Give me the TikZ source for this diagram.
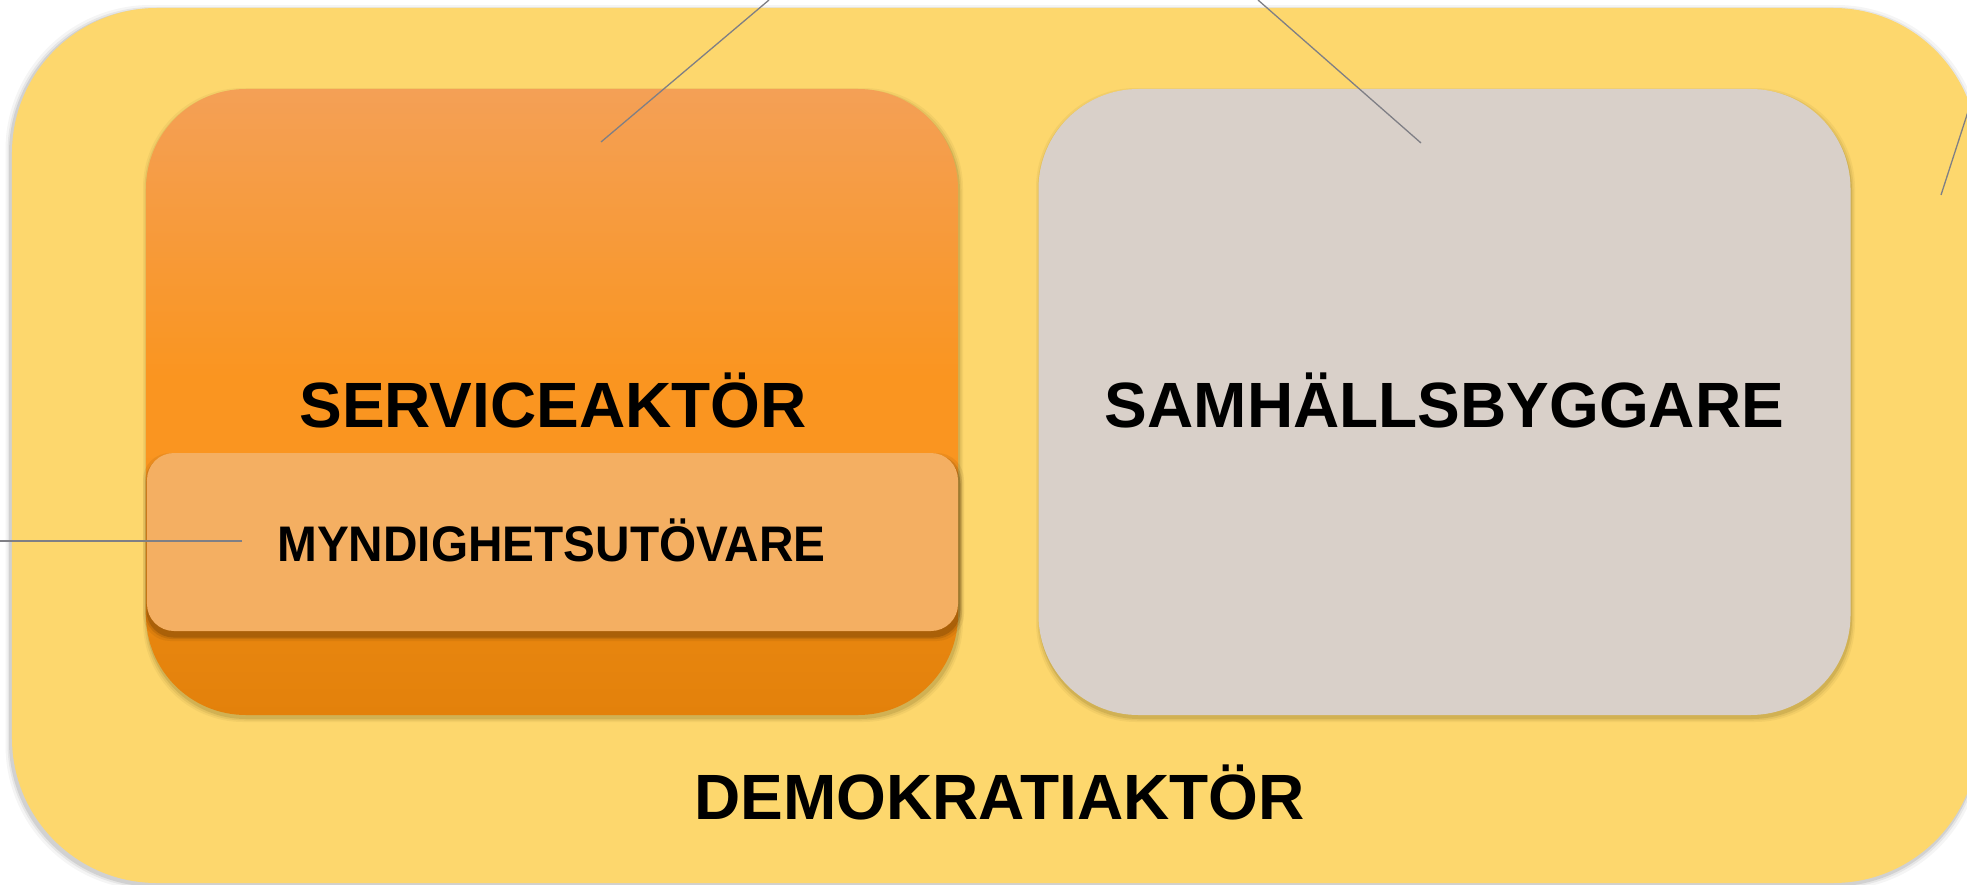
\documentclass[tikz,border=0pt]{standalone}
\usepackage{fontspec}
\setmainfont{Liberation Sans}
\usepackage{graphicx}
\definecolor{yel}{HTML}{FDD76D}
\definecolor{otop}{HTML}{F4A056}
\definecolor{omid}{HTML}{FA9520}
\definecolor{obot2}{HTML}{E8860F}
\definecolor{obot}{HTML}{E3810B}
\definecolor{greybox}{HTML}{D9D0C9}
\definecolor{lightor}{HTML}{F4AF62}
\definecolor{leader}{HTML}{7F7F85}
\definecolor{shol}{HTML}{5A4A10}
\definecolor{shbr}{HTML}{4A2800}
\pgfdeclareverticalshading{orangesh}{100bp}{color(0bp)=(obot); color(25bp)=(obot); color(32bp)=(obot2); color(46bp)=(omid); color(52bp)=(omid); color(75bp)=(otop); color(100bp)=(otop)}
\begin{document}
\begin{tikzpicture}[x=1bp,y=-1bp,
  outerbox/.style={rectangle, inner sep=0pt, fill=yel, rounded corners=145bp, minimum width=1966bp, minimum height=875bp},
  bigbox/.style={rectangle, inner sep=0pt, rounded corners=100bp, minimum width=812bp, minimum height=626bp},
  innerbox/.style={rectangle, inner sep=0pt, fill=lightor, rounded corners=27bp, minimum width=811bp, minimum height=178bp},
  bigtext/.style={inner sep=0pt, anchor=base, font=\bfseries\fontsize{64bp}{70bp}\selectfont},
  smalltext/.style={inner sep=0pt, anchor=base, font=\bfseries\fontsize{50bp}{56bp}\selectfont},
  leaderline/.style={draw=leader, line width=1.3bp}]
\useasboundingbox (0,0) rectangle (1967,885);
\fill[white] (0,0) rectangle (1967,885);
\clip (0,0) rectangle (1967,885);
% outer shadow
\foreach \g/\op in {5/0.04,3/0.06,1.5/0.09}
  \fill[black, opacity=\op, rounded corners=145bp] (12-\g-1.5, 8-\g+2) rectangle (1978+\g-1.5, 883+\g+2);
\node[outerbox] (demo) at (995,445.5) {};
% big box shadows
\foreach \g/\op in {4/0.06,2.5/0.09,1/0.14}{
  \fill[shol, opacity=\op, rounded corners=100bp] (146-\g+1, 89-\g+3) rectangle (958+\g+1, 715+\g+3);
  \fill[shol, opacity=\op, rounded corners=100bp] (1039-\g+1, 89-\g+3) rectangle (1850+\g+1, 715+\g+3);
}
\node[bigbox, shading=orangesh] (serv) at (552,402) {};
\node[bigbox, fill=greybox] (samh) at (1444.5,402) {};
% inner box shadow
\foreach \g/\op in {5/0.08,3/0.14,1.5/0.22}
  \fill[shbr, opacity=\op, rounded corners=27bp] (147-\g+1, 453-\g+5) rectangle (958+\g+1, 631+\g+5);
\node[innerbox] (mynd) at (552.5,542) {};
% texts
\node[bigtext] (servt) at (553,427) {SERVICEAKTÖR};
\node[bigtext] (samht) at (1444.5,427) {SAMHÄLLSBYGGARE};
\node[smalltext] (myndt) at (551.5,561) {\scalebox{0.955}[1]{MYNDIGHETSUTÖVARE}};
\node[bigtext] (demot) at (999.5,819) {DEMOKRATIAKTÖR};
% leader lines
\coordinate (l1a) at (601,142);
\coordinate (l1b) at (769,0);
\coordinate (l2a) at (1421,143);
\coordinate (l2b) at (1258,0);
\coordinate (l3a) at (1941,195);
\coordinate (l3b) at (1975,90);
\coordinate (l4a) at (242,541);
\coordinate (l4b) at (-5,541);
\draw[leaderline] (l1a) -- (l1b);
\draw[leaderline] (l2a) -- (l2b);
\draw[leaderline] (l3a) -- (l3b);
\draw[leaderline] (l4a) -- (l4b);
\end{tikzpicture}
\end{document}
